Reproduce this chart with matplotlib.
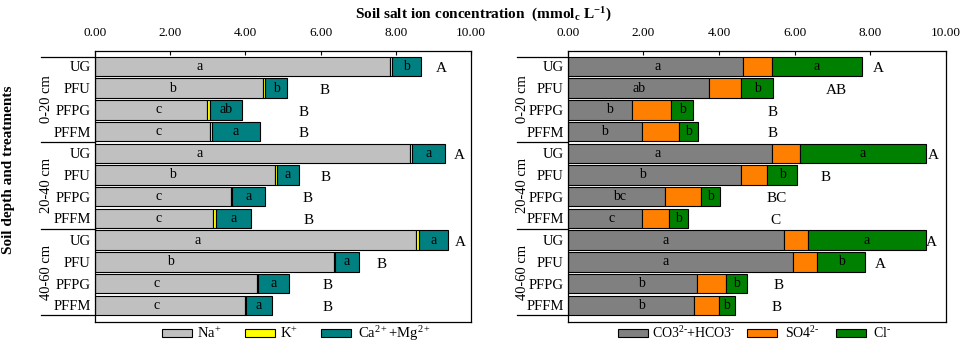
import matplotlib
matplotlib.use("Agg")
import matplotlib.pyplot as plt
from matplotlib.patches import Rectangle
from matplotlib.transforms import blended_transform_factory
import numpy as np

plt.rcParams['font.family'] = ['Liberation Serif', 'DejaVu Serif']
plt.rcParams['mathtext.fontset'] = 'custom'
plt.rcParams['mathtext.rm'] = 'Liberation Serif'
plt.rcParams['mathtext.it'] = 'Liberation Serif:italic'
plt.rcParams['mathtext.bf'] = 'Liberation Serif:bold'

# ---------------- data ----------------
treatments = ["UG", "PFU", "PFPG", "PFFM"] * 3
depths = ["0-20 cm", "20-40 cm", "40-60 cm"]

na = [7.84, 4.47, 2.99, 3.06, 8.37, 4.78, 3.62, 3.15, 8.55, 6.35, 4.31, 4.00]
k = [0.07, 0.05, 0.07, 0.05, 0.06, 0.05, 0.02, 0.06, 0.07, 0.02, 0.02, 0.02]
camg = [0.76, 0.59, 0.85, 1.27, 0.88, 0.60, 0.89, 0.93, 0.76, 0.65, 0.83, 0.69]

co3 = [4.63, 3.74, 1.69, 1.96, 5.39, 4.59, 2.58, 1.97, 5.73, 5.96, 3.41, 3.35]
so4 = [0.76, 0.85, 1.05, 0.99, 0.74, 0.69, 0.95, 0.72, 0.63, 0.64, 0.77, 0.66]
cl = [2.38, 0.83, 0.58, 0.49, 3.33, 0.79, 0.50, 0.48, 3.10, 1.25, 0.57, 0.40]

na_sig = ["a", "b", "c", "c", "a", "b", "c", "c", "a", "b", "c", "c"]
camg_sig = ["b", "b", "ab", "a", "a", "a", "a", "a", "a", "a", "a", "a"]
left_total_sig = ["A", "B", "B", "B", "A", "B", "B", "B", "A", "B", "B", "B"]

co3_sig = ["a", "ab", "b", "b", "a", "b", "bc", "c", "a", "a", "b", "b"]
cl_sig = ["a", "b", "b", "b", "a", "b", "b", "b", "a", "b", "b", "b"]
right_total_sig = ["A", "AB", "B", "B", "A", "B", "BC", "C", "A", "A", "B", "B"]

xticks = [0, 2, 4, 6, 8, 10]
xticklabels = ["0.00", "2.00", "4.00", "6.00", "8.00", "10.00"]

left_legend = ["Na$^{+}$", "K$^{+}$", "Ca$^{2+}$+Mg$^{2+}$"]
right_legend = [r"CO3$^{2\text{-}}$+HCO3$^{\text{-}}$", r"SO4$^{2\text{-}}$", r"Cl$^{\text{-}}$"]

# ---------------- layout (annotation placement) ----------------
na_lab_x = [2.77, 2.07, 1.69, 1.69, 2.77, 2.07, 1.69, 1.69, 2.72, 2.01, 1.65, 1.65]
left_cap_x = [9.2, 6.1, 5.55, 5.55, 9.7, 6.12, 5.65, 5.68, 9.72, 7.61, 6.19, 6.19]
co3_lab_x = [2.37, 1.88, 1.1, 0.97, 2.37, 1.97, 1.38, 1.16, 2.6, 2.6, 1.95, 1.95]
right_cap_x = [8.21, 7.09, 5.42, 5.42, 9.67, 6.82, 5.52, 5.49, 9.6, 8.26, 5.58, 5.51]

W, H = 966, 354
fig = plt.figure(figsize=(W / 100, H / 100), dpi=100)

def px_axes(x0, x1, y0, y1):
    return fig.add_axes([x0 / W, 1 - y1 / H, (x1 - x0) / W, (y1 - y0) / H])

axL = px_axes(95, 471, 51, 322)
axR = px_axes(567.7, 946, 51, 322)

y = np.arange(len(treatments))
bh = 0.9
ec = 'black'
lw = 0.8
TICK_FS = 9.5
CAT_FS = 10.5
SIG_FS = 10
CAP_FS = 11


def setup(ax):
    ax.set_xlim(0, 10)
    ax.set_ylim(11.77, -0.71)
    ax.xaxis.tick_top()
    ax.set_xticks(xticks)
    ax.set_xticklabels(xticklabels, fontsize=TICK_FS)
    ax.tick_params(axis='x', direction='in', length=3, width=0.8, pad=9,
                   top=True, bottom=False)
    ax.set_yticks(y)
    ax.set_yticklabels(treatments, fontsize=CAT_FS)
    ax.tick_params(axis='y', length=0, pad=3)
    for s in ax.spines.values():
        s.set_linewidth(0.9)


def separators(ax, x_fig_px):
    trans = blended_transform_factory(fig.transFigure, ax.transData)
    x_left = ax.get_position().x0
    for yy in [-0.45, 3.5, 7.5, 11.45]:
        ax.plot([x_fig_px / W, x_left], [yy, yy], color='black', lw=0.9,
                transform=trans, clip_on=False)
    for gi, d in enumerate(depths):
        ax.text((x_fig_px + 5) / W, gi * 4 + 1.5, d, transform=trans,
                rotation=90, ha='center', va='center', fontsize=CAT_FS)


setup(axL)
setup(axR)
separators(axL, 41)
separators(axR, 517)

# left panel
na_a = np.array(na); k_a = np.array(k); c_a = np.array(camg)
axL.barh(y, na_a, height=bh, color='#C0C0C0', edgecolor=ec, linewidth=lw)
axL.barh(y, k_a, left=na_a, height=bh, color='#FFFF00', edgecolor=ec, linewidth=lw)
axL.barh(y, c_a, left=na_a + k_a, height=bh, color='#008080', edgecolor=ec, linewidth=lw)
for i in range(len(y)):
    axL.text(na_lab_x[i], y[i], na_sig[i], ha='center', va='center', fontsize=SIG_FS)
    axL.text(na_a[i] + k_a[i] + c_a[i] / 2, y[i], camg_sig[i], ha='center', va='center', fontsize=SIG_FS)
    axL.text(left_cap_x[i], y[i] + 0.1, left_total_sig[i], ha='center', va='center', fontsize=CAP_FS)

# right panel
co_a = np.array(co3); s_a = np.array(so4); cl_a = np.array(cl)
axR.barh(y, co_a, height=bh, color='#808080', edgecolor=ec, linewidth=lw)
axR.barh(y, s_a, left=co_a, height=bh, color='#FF8000', edgecolor=ec, linewidth=lw)
axR.barh(y, cl_a, left=co_a + s_a, height=bh, color='#008000', edgecolor=ec, linewidth=lw)
for i in range(len(y)):
    axR.text(co3_lab_x[i], y[i], co3_sig[i], ha='center', va='center', fontsize=SIG_FS)
    axR.text(co_a[i] + s_a[i] + cl_a[i] / 2, y[i], cl_sig[i], ha='center', va='center', fontsize=SIG_FS)
    axR.text(right_cap_x[i], y[i] + 0.1, right_total_sig[i], ha='center', va='center', fontsize=CAP_FS)


# legends (drawn manually in figure pixels)
def legend_items(labels, colors, patch_x, text_x, yc=333.3, fs=CAT_FS):
    for lab, col, px, tx in zip(labels, colors, patch_x, text_x):
        fig.patches.append(Rectangle((px / W, 1 - (yc + 4) / H), 30 / W, 8 / H,
                                     transform=fig.transFigure, facecolor=col,
                                     edgecolor=ec, linewidth=lw))
        fig.text(tx / W, 1 - yc / H, lab, ha='left', va='center', fontsize=fs)


legend_items(left_legend, ['#C0C0C0', '#FFFF00', '#008080'],
             [162, 245, 321], [197, 280, 358])
legend_items(right_legend, ['#808080', '#FF8000', '#008000'],
             [618, 747, 836], [652, 785, 873], fs=10)

# titles
fig.text(483 / W, 1 - 15 / H,
         r"Soil salt ion concentration  (mmol$_{\mathbf{c}}$ L$^{\mathbf{-1}}$)",
         ha='center', va='center', fontsize=11, fontweight='bold')
fig.text(9 / W, 1 - 170 / H, "Soil depth and treatments", rotation=90,
         ha='center', va='center', fontsize=11, fontweight='bold')

fig.savefig("out.png", dpi=100)
